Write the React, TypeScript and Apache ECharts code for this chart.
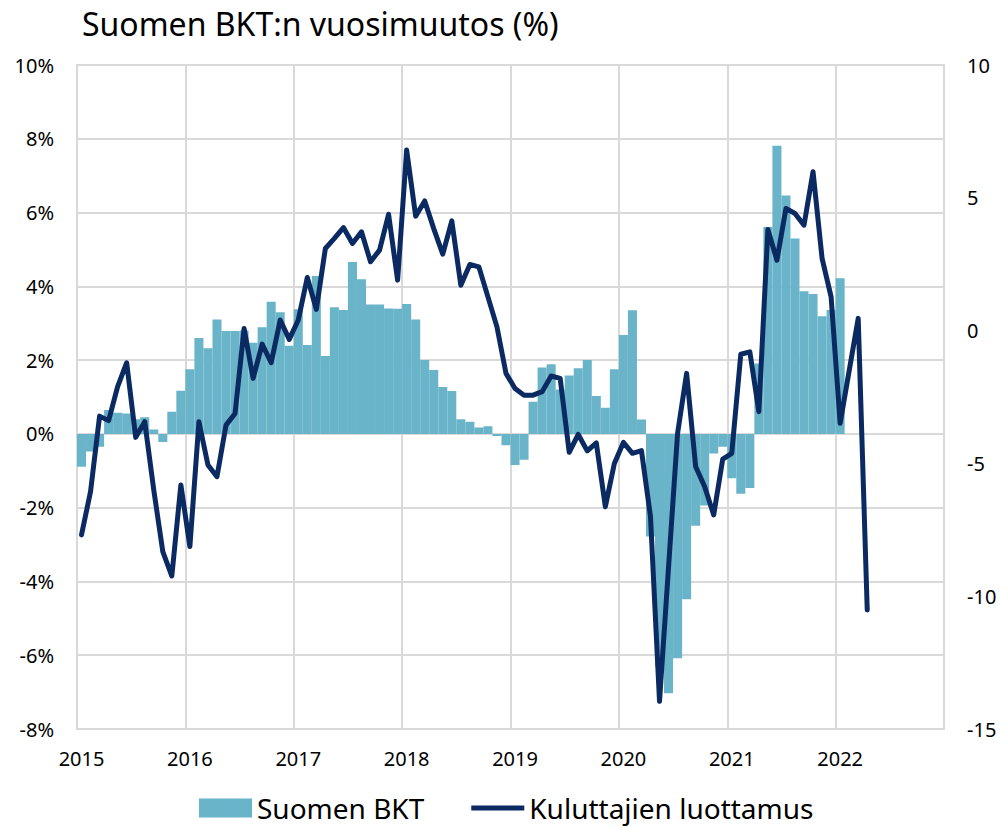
import React, { useEffect, useRef } from "react";
import * as echarts from "echarts";

const years = [2015, 2016, 2017, 2018, 2019, 2020, 2021, 2022];
const monthNames = ["01", "02", "03", "04", "05", "06", "07", "08", "09", "10", "11", "12"];
const categories: string[] = years.flatMap((y) => monthNames.map((m) => `${y}-${m}`));

const titleText = "Suomen BKT:n vuosimuutos (%)";
const barName = "Suomen BKT";
const lineName = "Kuluttajien luottamus";

// Suomen BKT, vuosimuutos % (monthly, 2015-01 .. 2022-01)
const gdpChange: number[] = [
  -0.89, -0.48, -0.35, 0.65, 0.57, 0.55, 0.4, 0.45, 0.12, -0.22, 0.6, 1.17,
  1.75, 2.6, 2.32, 3.1, 2.79, 2.79, 2.8, 2.47, 2.89, 3.58, 3.3, 2.39,
  3.38, 2.41, 4.28, 2.11, 3.43, 3.36, 4.66, 4.19, 3.51, 3.51, 3.4, 3.39,
  3.52, 3.1, 2.0, 1.73, 1.27, 1.16, 0.4, 0.33, 0.17, 0.21, -0.06, -0.31,
  -0.84, -0.7, 0.87, 1.8, 1.89, 1.2, 1.58, 1.78, 2.0, 1.03, 0.71, 1.75,
  2.68, 3.35, 0.39, -2.78, -6.3, -7.03, -6.08, -4.48, -2.49, -1.94, -0.53, -0.35,
  -1.2, -1.62, -1.47, 1.91, 5.61, 7.81, 6.46, 5.3, 3.87, 3.79, 3.19, 3.36,
  4.22,
];

// Kuluttajien luottamus (saldoluku, monthly, 2015-01 .. 2022-04)
const consumerConfidence: number[] = [
  -7.69, -6.06, -3.22, -3.39, -2.11, -1.21, -4.02, -3.43, -6.0, -8.32, -9.24, -5.81,
  -8.13, -3.43, -5.06, -5.5, -3.56, -3.12, 0.08, -1.8, -0.51, -1.21, 0.4, -0.33,
  0.4, 2.0, 0.8, 3.09, 3.47, 3.88, 3.28, 3.72, 2.59, 3.03, 4.38, 1.9,
  6.8, 4.31, 4.88, 3.84, 2.88, 4.13, 1.71, 2.49, 2.4, 1.27, 0.14, -1.61,
  -2.18, -2.43, -2.43, -2.3, -1.71, -1.8, -4.58, -3.91, -4.53, -4.23, -6.63, -5.0,
  -4.21, -4.62, -4.52, -7.0, -13.96, -8.9, -3.87, -1.61, -5.12, -5.88, -6.94, -4.84,
  -4.62, -0.89, -0.8, -3.05, 3.81, 2.65, 4.6, 4.41, 3.97, 5.98, 2.72, 1.27,
  -3.49, -1.51, 0.46, -10.52,
];

const leftMin = -8;
const leftMax = 10;
const leftInterval = 2;
const rightMin = -15;
const rightMax = 10;
const rightInterval = 5;

const FONT = "'Noto Sans', 'Open Sans', sans-serif";
const GRID_COLOR = "#d9d9d9";
const BAR_COLOR = "#69b4c9";
const LINE_COLOR = "#0b2a62";

export default function App() {
  const ref = useRef<HTMLDivElement | null>(null);

  useEffect(() => {
    document.body.style.margin = "0";
    if (!ref.current) return;
    const chart = echarts.init(ref.current, undefined, { renderer: "svg" });
    const pad = (arr: number[]) => categories.map((_, i) => (i < arr.length ? arr[i] : null));

    chart.setOption({
      animation: false,
      backgroundColor: "#ffffff",
      textStyle: { fontFamily: FONT, color: "#000" },
      title: {
        text: titleText,
        left: 77,
        top: 2,
        textStyle: { fontFamily: FONT, fontSize: 32, fontWeight: "normal", color: "#000" },
      },
      legend: {
        left: 199,
        top: 794,
        padding: 0,
        itemWidth: 53,
        itemHeight: 19,
        itemGap: 47,
        textStyle: { fontFamily: FONT, fontSize: 28, lineHeight: 28, color: "#000" },
        data: [
          { name: barName, icon: "rect" },
          { name: lineName, icon: "path://M0,0 L106,0 L106,10 L0,10 Z" },
        ],
      },
      grid: {
        left: 77,
        right: 58,
        top: 65,
        bottom: 99,
        show: true,
        borderColor: GRID_COLOR,
        borderWidth: 2,
        containLabel: false,
      },
      xAxis: [
        {
          type: "category",
          data: categories,
          boundaryGap: true,
          axisLine: { show: false },
          axisTick: { show: false },
          axisLabel: {
            interval: (index: number) => index % 12 === 0,
            formatter: (v: string) => v.slice(0, 4),
            fontFamily: FONT,
            fontSize: 20,
            color: "#000",
            margin: 19,
          },
          splitLine: {
            show: true,
            interval: (index: number) => index % 12 === 0,
            lineStyle: { color: GRID_COLOR, width: 2 },
          },
        },
      ],
      yAxis: [
        {
          type: "value",
          min: leftMin,
          max: leftMax,
          interval: leftInterval,
          axisLine: { show: false },
          axisTick: { show: false },
          axisLabel: {
            formatter: (v: number) => `${v}%`,
            fontFamily: FONT,
            fontSize: 20,
            color: "#000",
            margin: 23,
          },
          splitLine: { show: true, lineStyle: { color: GRID_COLOR, width: 2 } },
        },
        {
          type: "value",
          min: rightMin,
          max: rightMax,
          interval: rightInterval,
          position: "right",
          axisLine: { show: false },
          axisTick: { show: false },
          axisLabel: {
            fontFamily: FONT,
            fontSize: 20,
            color: "#000",
            margin: 23,
          },
          splitLine: { show: false },
        },
      ],
      series: [
        {
          name: barName,
          type: "bar",
          xAxisIndex: 0,
          yAxisIndex: 0,
          data: pad(gdpChange),
          barWidth: "100%",
          barCategoryGap: "0%",
          itemStyle: { color: BAR_COLOR },
        },
        {
          name: lineName,
          type: "line",
          xAxisIndex: 0,
          yAxisIndex: 1,
          data: pad(consumerConfidence),
          symbol: "none",
          connectNulls: false,
          lineStyle: { color: LINE_COLOR, width: 5, cap: "round", join: "round" },
          itemStyle: { color: LINE_COLOR },
        },
      ],
    });

    return () => {
      chart.dispose();
    };
  }, []);

  return <div ref={ref} style={{ width: 1002, height: 828 }} />;
}
